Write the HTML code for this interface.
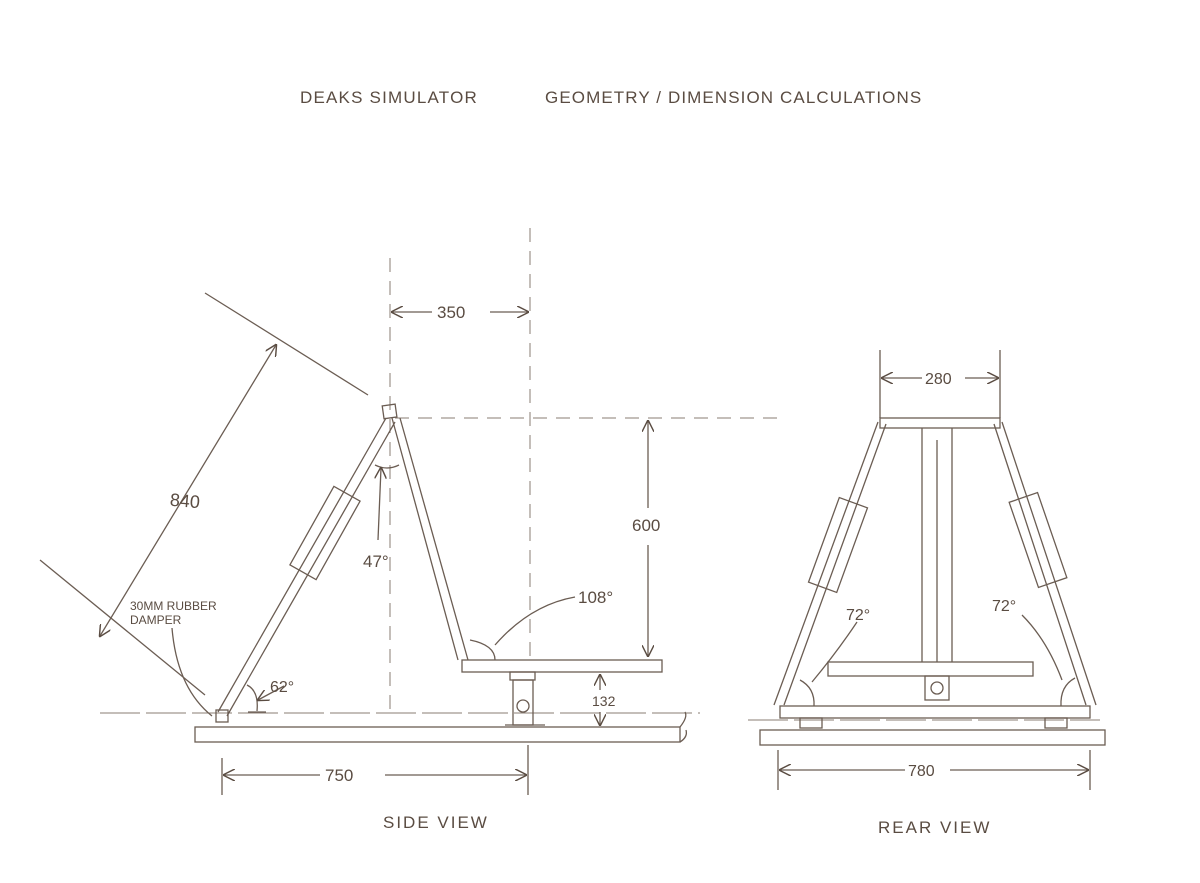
<!DOCTYPE html>
<html><head><meta charset="utf-8"><style>
html,body{margin:0;padding:0;background:#fff;}
svg{display:block;}
text{font-family:"Liberation Sans",cursive,sans-serif;fill:#5a4c42;}
</style></head><body>
<svg width="1200" height="883" viewBox="0 0 1200 883" xmlns="http://www.w3.org/2000/svg">
<defs>
<marker id="a" viewBox="0 0 10 10" refX="9" refY="5" markerWidth="12" markerHeight="12" orient="auto-start-reverse" markerUnits="userSpaceOnUse"><path d="M0,0 L10,5 L0,10" fill="none" stroke="#5a4c42" stroke-width="1.2"/></marker>
</defs>
<rect width="1200" height="883" fill="#fff"/>
<text x="300" y="103" font-size="17" letter-spacing="1.2">DEAKS SIMULATOR</text>
<text x="545" y="103" font-size="17" letter-spacing="1.1">GEOMETRY / DIMENSION CALCULATIONS</text>

<g stroke="#8a7d73" stroke-width="1" fill="none" stroke-dasharray="14,9">
<line x1="390" y1="258" x2="390" y2="715"/>
<line x1="530" y1="228" x2="530" y2="660"/>
<line x1="395" y1="418" x2="780" y2="418"/>
<line x1="100" y1="713" x2="700" y2="713" stroke-dasharray="40,6"/>
<line x1="748" y1="720" x2="1100" y2="720" stroke-dasharray="40,6"/>
</g>

<g stroke="#6b5d53" stroke-width="1.3" fill="none">
<rect x="195" y="727" width="485" height="15"/>
<path d="M680,727 q8,-10 5,-15 M680,742 q8,-5 6,-12"/>
<line x1="386" y1="418" x2="218" y2="712"/>
<line x1="395" y1="422" x2="227" y2="716"/>
<rect x="383" y="405" width="13" height="13" transform="rotate(-8 389 411)"/>
<rect x="216" y="710" width="12" height="12"/>
<line x1="392" y1="418" x2="458" y2="660"/>
<line x1="400" y1="418" x2="468" y2="660"/>
<rect x="462" y="660" width="200" height="12"/>
<rect x="510" y="672" width="25" height="8"/>
<rect x="513" y="680" width="20" height="45"/>
<circle cx="523" cy="706" r="6"/>
<line x1="505" y1="725" x2="545" y2="725"/>
<g transform="translate(325,533) rotate(-60.75)">
<rect x="-45" y="-15" width="90" height="30"/>
</g>
<path d="M375,465 q12,6 24,0"/>
<path d="M470,640 q25,5 25,20"/>
<path d="M247,685 q12,6 10,26"/>
<line x1="248" y1="712" x2="266" y2="712"/>
<path d="M381,468 L378,540" marker-start="url(#a)"/>
<path d="M495,645 q35,-40 80,-48"/>
<path d="M258,700 L284,686" marker-start="url(#a)"/>
<path d="M172,628 q5,60 40,88"/>
<line x1="100" y1="636" x2="276" y2="345" marker-start="url(#a)" marker-end="url(#a)"/>
<line x1="205" y1="293" x2="368" y2="395"/>
<line x1="40" y1="560" x2="205" y2="695"/>
<line x1="392" y1="312" x2="432" y2="312" marker-start="url(#a)"/>
<line x1="490" y1="312" x2="528" y2="312" marker-end="url(#a)"/>
<line x1="648" y1="421" x2="648" y2="508" marker-start="url(#a)"/>
<line x1="648" y1="545" x2="648" y2="656" marker-end="url(#a)"/>
<line x1="600" y1="675" x2="600" y2="690" marker-start="url(#a)"/>
<line x1="600" y1="712" x2="600" y2="725" marker-end="url(#a)"/>
<line x1="222" y1="758" x2="222" y2="795"/>
<line x1="528" y1="745" x2="528" y2="795"/>
<line x1="224" y1="775" x2="320" y2="775" marker-start="url(#a)"/>
<line x1="385" y1="775" x2="526" y2="775" marker-end="url(#a)"/>

<rect x="880" y="418" width="120" height="10"/>
<line x1="922" y1="428" x2="922" y2="662"/>
<line x1="952" y1="428" x2="952" y2="662"/>
<line x1="937" y1="440" x2="937" y2="662"/>
<rect x="828" y="662" width="205" height="14"/>
<rect x="925" y="676" width="24" height="24"/>
<circle cx="937" cy="688" r="6"/>
<rect x="780" y="706" width="310" height="12"/>
<rect x="760" y="730" width="345" height="15"/>
<rect x="800" y="718" width="22" height="10"/>
<rect x="1045" y="718" width="22" height="10"/>
<line x1="878" y1="422" x2="774" y2="705"/>
<line x1="886" y1="424" x2="784" y2="705"/>
<line x1="1002" y1="422" x2="1096" y2="705"/>
<line x1="994" y1="424" x2="1086" y2="705"/>
<g transform="translate(838,545) rotate(-70)"><rect x="-45" y="-15" width="90" height="30"/></g>
<g transform="translate(1038,540) rotate(71)"><rect x="-45" y="-15" width="90" height="30"/></g>
<path d="M800,680 q15,8 14,26"/>
<path d="M1075,678 q-15,8 -14,28"/>
<path d="M812,682 q25,-30 45,-60"/>
<path d="M1062,680 q-15,-40 -40,-65"/>
<line x1="880" y1="350" x2="880" y2="418"/>
<line x1="1000" y1="350" x2="1000" y2="418"/>
<line x1="882" y1="378" x2="922" y2="378" marker-start="url(#a)"/>
<line x1="965" y1="378" x2="998" y2="378" marker-end="url(#a)"/>
<line x1="778" y1="750" x2="778" y2="790"/>
<line x1="1090" y1="750" x2="1090" y2="790"/>
<line x1="780" y1="770" x2="905" y2="770" marker-start="url(#a)"/>
<line x1="950" y1="770" x2="1088" y2="770" marker-end="url(#a)"/>
</g>

<text x="437" y="318" font-size="17">350</text>
<text x="632" y="531" font-size="17">600</text>
<text x="592" y="706" font-size="14">132</text>
<text x="325" y="781" font-size="17">750</text>
<text x="170" y="507" font-size="18" transform="rotate(5 185 500)">840</text>
<text x="363" y="567" font-size="17">47°</text>
<text x="578" y="603" font-size="17">108°</text>
<text x="270" y="692" font-size="16">62°</text>
<text x="130" y="610" font-size="12">30MM RUBBER</text>
<text x="130" y="624" font-size="12">DAMPER</text>
<text x="383" y="828" font-size="17" letter-spacing="2">SIDE VIEW</text>
<text x="925" y="384" font-size="16">280</text>
<text x="908" y="776" font-size="16">780</text>
<text x="846" y="620" font-size="16">72°</text>
<text x="992" y="611" font-size="16">72°</text>
<text x="878" y="833" font-size="17" letter-spacing="2">REAR VIEW</text>
</svg>
</body></html>
